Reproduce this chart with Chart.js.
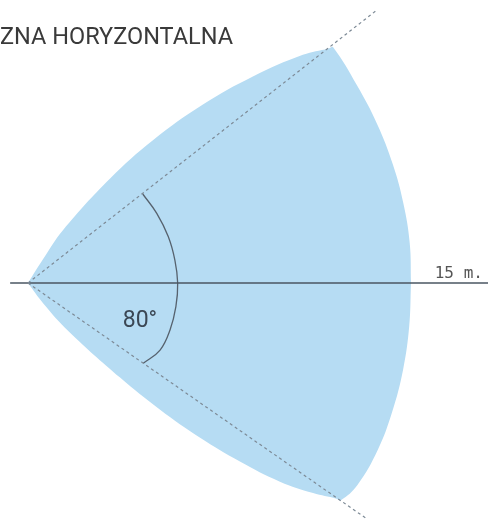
<!DOCTYPE html>
<html>
<head>
<meta charset="utf-8">
<script src="https://cdn.jsdelivr.net/npm/chart.js@4.4.0/dist/chart.umd.min.js"></script>
<style>
  body { margin: 0; background: #fff; }
  #wrap { width: 488px; height: 519px; position: relative; }
</style>
</head>
<body>
<div id="wrap"><canvas id="zone"></canvas></div>
<script>
// strefa detekcji, wspolrzedne w metrach (czujnik w 0,0)
const upperEdge = [[0, 0], [0.6, 0.95], [1.37, 2.07], [3.22, 4.1], [4.9, 5.6], [6.86, 7.0],
  [8.82, 8.1], [10.78, 8.95], [11.8, 9.2], [11.96, 9.25],
  [12.9, 7.75], [13.69, 6.24], [14.31, 4.65], [14.72, 3.13], [14.97, 1.57], [15.02, 0]];
const lowerEdge = [[0, 0], [0.6, -0.8], [1.6, -1.9], [3.61, -3.71], [5.18, -4.97], [6.75, -6.07],
  [8.31, -7.0], [9.88, -7.79], [11.18, -8.24], [12.1, -8.46], [12.27, -8.52],
  [12.92, -7.92], [13.72, -6.54], [14.28, -5.06], [14.71, -3.4], [14.95, -1.7], [15.02, 0]];
const rayUpper = [[0, 0], [13.69, 10.71]];
const rayLower = [[0, 0], [13.29, -9.25]];
const axisLine = [[-0.7, 0], [18.2, 0]];
const angleArc = [[4.5, 3.49], [5.05, 2.73], [5.5, 1.82], [5.76, 0.9], [5.87, 0], [5.8, -0.93],
  [5.57, -1.84], [5.18, -2.63], [4.52, -3.15]];

const titleText = 'ZNA HORYZONTALNA';
const rangeText = '15 m.';
const angleText = '80\u00b0';

function pts(list) {
  return list.map(p => ({ x: p[0], y: p[1] }));
}

// napisy na rysunku
const labelsPlugin = {
  id: 'labels',
  afterDraw(chart) {
    const ctx = chart.ctx;
    const sx = chart.scales.x;
    const sy = chart.scales.y;
    ctx.save();
    ctx.textBaseline = 'alphabetic';

    ctx.fillStyle = '#3a3a3a';
    ctx.font = '23.5px Roboto';
    ctx.textAlign = 'left';
    ctx.fillText(titleText, 0, 44);

    ctx.fillStyle = '#555';
    ctx.font = '16px "DejaVu Sans Mono"';
    ctx.textAlign = 'right';
    ctx.fillText(rangeText, sx.getPixelForValue(17.84), sy.getPixelForValue(0.2));

    ctx.fillStyle = '#3b4754';
    ctx.font = '23px Roboto';
    ctx.textAlign = 'center';
    ctx.fillText(angleText, sx.getPixelForValue(4.39), sy.getPixelForValue(-1.72));
    ctx.restore();
  }
};

const line = (data, color, width, extra) => Object.assign({
  data: pts(data),
  borderColor: color,
  borderWidth: width,
  pointRadius: 0,
  fill: false,
  tension: 0
}, extra || {});

new Chart(document.querySelector('#zone'), {
  type: 'line',
  data: {
    datasets: [
      line(upperEdge, 'rgba(0,0,0,0)', 0, { fill: '+1', backgroundColor: 'rgb(182,220,243)', tension: 0.4 }),
      line(lowerEdge, 'rgba(0,0,0,0)', 0, { tension: 0.4 }),
      line(rayUpper, '#7d8a96', 1.2, { borderDash: [3, 3] }),
      line(rayLower, '#7d8a96', 1.2, { borderDash: [3, 3] }),
      line(axisLine, '#4a5662', 1.5),
      line(angleArc, '#56626e', 1.3, { tension: 0.4 })
    ]
  },
  options: {
    responsive: true,
    maintainAspectRatio: false,
    animation: false,
    layout: { padding: 0 },
    plugins: {
      legend: { display: false },
      tooltip: { enabled: false },
      filler: { drawTime: 'beforeDatasetsDraw' }
    },
    scales: {
      x: { type: 'linear', min: -1.098, max: 18.04, display: false },
      y: { type: 'linear', min: -9.255, max: 11.098, display: false }
    }
  },
  plugins: [labelsPlugin]
});
</script>
</body>
</html>
